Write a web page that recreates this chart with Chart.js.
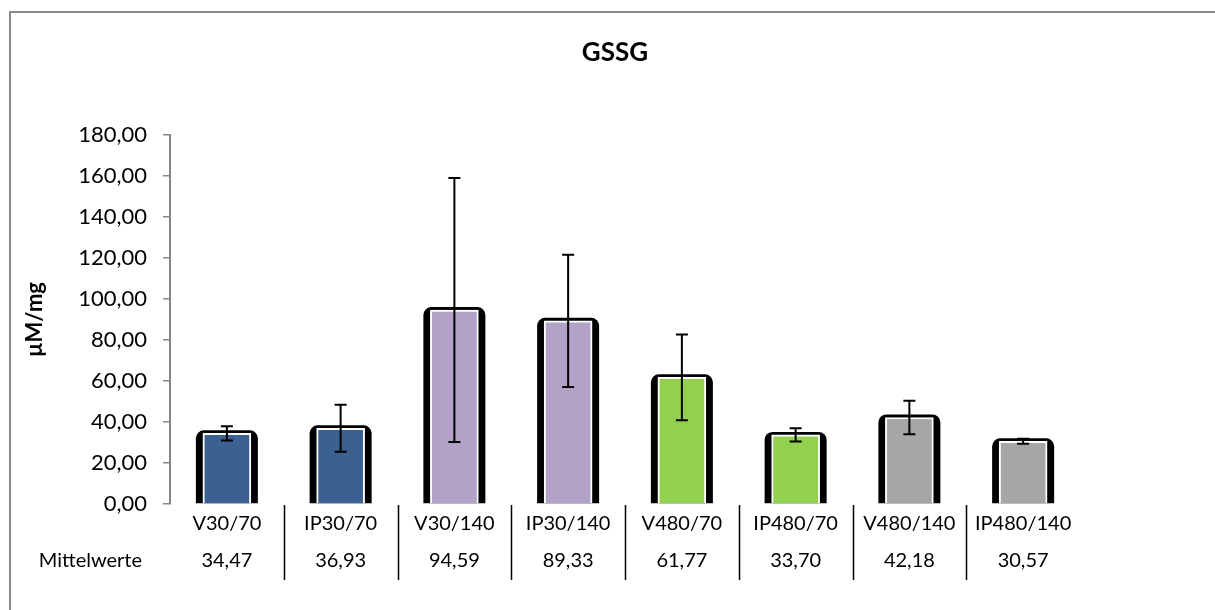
<!DOCTYPE html>
<html>
<head>
<meta charset="utf-8">
<title>GSSG</title>
<script src="https://cdn.jsdelivr.net/npm/chart.js@4.4.1/dist/chart.umd.min.js"></script>
<style>
    html, body { margin: 0; padding: 0; background: #fff; }
    #wrap { width: 1215px; height: 610px; }
</style>
</head>
<body>
<div id="wrap"><canvas id="chart" width="1215" height="610"></canvas></div>
<script>
// values
const chartTitle = 'GSSG';
const categories = ['V30/70', 'IP30/70', 'V30/140', 'IP30/140', 'V480/70', 'IP480/70', 'V480/140', 'IP480/140'];
const means = [34.47, 36.93, 94.59, 89.33, 61.77, 33.70, 42.18, 30.57];
const errors = [3.5, 11.5, 64.4, 32.2, 20.9, 3.2, 8.2, 1.2];
const yTicks = [0, 20, 40, 60, 80, 100, 120, 140, 160, 180];
const rowLabel = 'Mittelwerte';

const barColors = ['#3a6191', '#3a6191', '#b3a2c7', '#b3a2c7', '#92d050', '#92d050', '#a6a6a6', '#a6a6a6'];

const FONT = 'Lato, "Open Sans", sans-serif';

function fmt(v) {
    return v.toFixed(2).replace('.', ',');
}

// white page, grey frame (only left and top edge are visible) and the title,
// which sits in the middle of the whole page rather than the plot
const framePlugin = {
    id: 'frame',
    beforeDraw(chart) {
        const ctx = chart.ctx;
        ctx.save();
        ctx.fillStyle = '#fff';
        ctx.fillRect(0, 0, chart.width, chart.height);
        ctx.strokeStyle = '#8a8a8a';
        ctx.lineWidth = 2;
        ctx.beginPath();
        ctx.moveTo(10, chart.height);
        ctx.lineTo(10, 12);
        ctx.lineTo(chart.width, 12);
        ctx.stroke();

        ctx.fillStyle = '#000';
        ctx.font = 'bold 26px ' + FONT;
        ctx.textAlign = 'center';
        ctx.textBaseline = 'middle';
        ctx.fillText(chartTitle, 615, 53);
        ctx.restore();
    }
};

// black backing behind every bar (the excel "shadow" look)
const backingPlugin = {
    id: 'backing',
    beforeDatasetsDraw(chart) {
        const ctx = chart.ctx;
        const meta = chart.getDatasetMeta(0);
        ctx.save();
        ctx.fillStyle = '#000';
        meta.data.forEach(bar => {
            const half = 31;
            const top = bar.y - 3;
            const r = 8;
            ctx.beginPath();
            ctx.roundRect(bar.x - half, top, half * 2, bar.base - top, [r, r, 0, 0]);
            ctx.fill();
        });
        ctx.restore();
    }
};

// error bars
const errorBarPlugin = {
    id: 'errorBars',
    afterDatasetsDraw(chart) {
        const ctx = chart.ctx;
        const y = chart.scales.y;
        const meta = chart.getDatasetMeta(0);
        ctx.save();
        ctx.strokeStyle = '#000';
        ctx.lineWidth = 2;
        meta.data.forEach((bar, i) => {
            const hi = y.getPixelForValue(means[i] + errors[i]);
            const lo = y.getPixelForValue(means[i] - errors[i]);
            const cap = 6;
            ctx.beginPath();
            ctx.moveTo(bar.x, hi);
            ctx.lineTo(bar.x, lo);
            ctx.moveTo(bar.x - cap, hi);
            ctx.lineTo(bar.x + cap, hi);
            ctx.moveTo(bar.x - cap, lo);
            ctx.lineTo(bar.x + cap, lo);
            ctx.stroke();
        });
        ctx.restore();
    }
};

// data table under the axis: separators and the Mittelwerte row
const tablePlugin = {
    id: 'dataTable',
    afterDraw(chart) {
        const ctx = chart.ctx;
        const x = chart.scales.x;
        const bottom = chart.chartArea.bottom;
        ctx.save();
        ctx.strokeStyle = '#000';
        ctx.lineWidth = 1.5;
        ctx.beginPath();
        for (let i = 1; i < categories.length; i++) {
            const sx = Math.round((x.getPixelForValue(i - 1) + x.getPixelForValue(i)) / 2) + 0.5;
            ctx.moveTo(sx, bottom + 1);
            ctx.lineTo(sx, bottom + 76);
        }
        ctx.stroke();

        ctx.fillStyle = '#000';
        ctx.font = '20px ' + FONT;
        ctx.textBaseline = 'middle';
        ctx.textAlign = 'right';
        ctx.fillText(rowLabel, chart.chartArea.left - 28, bottom + 57);
        ctx.textAlign = 'center';
        means.forEach((m, i) => {
            ctx.fillText(fmt(m), x.getPixelForValue(i), bottom + 57);
        });
        ctx.restore();
    }
};

new Chart(document.getElementById('chart'), {
    type: 'bar',
    data: {
        labels: categories,
        datasets: [{
            data: means,
            backgroundColor: barColors,
            borderColor: '#ffffff',
            borderWidth: 2,
            borderSkipped: 'bottom',
            barThickness: 48
        }]
    },
    options: {
        responsive: false,
        animation: false,
        devicePixelRatio: 1,
        layout: {
            padding: { left: 14, right: 135, top: 135, bottom: 0 }
        },
        plugins: {
            legend: { display: false },
            tooltip: { enabled: false },
            title: { display: false }
        },
        scales: {
            x: {
                grid: { display: false },
                border: { display: false },
                ticks: {
                    color: '#000',
                    font: { family: FONT, size: 20 },
                    padding: 0,
                    maxRotation: 0,
                    autoSkip: false
                },
                afterFit(scale) { scale.height = 106; }
            },
            y: {
                min: 0,
                max: 180,
                afterBuildTicks(scale) {
                    scale.ticks = yTicks.map(v => ({ value: v }));
                },
                grid: {
                    drawOnChartArea: false,
                    drawTicks: true,
                    tickLength: 7,
                    color: '#868686',
                    lineWidth: 1.5
                },
                border: { display: true, color: '#868686', width: 2 },
                ticks: {
                    color: '#000',
                    font: { family: FONT, size: 22 },
                    padding: 16,
                    callback: v => fmt(v)
                },
                title: {
                    display: true,
                    text: 'µM/mg',
                    color: '#000',
                    font: { family: FONT, size: 22, weight: 'bold' },
                    padding: { top: 8, bottom: 0 }
                },
                afterFit(scale) { scale.width = 156; }
            }
        }
    },
    plugins: [framePlugin, backingPlugin, errorBarPlugin, tablePlugin]
});
</script>
</body>
</html>
